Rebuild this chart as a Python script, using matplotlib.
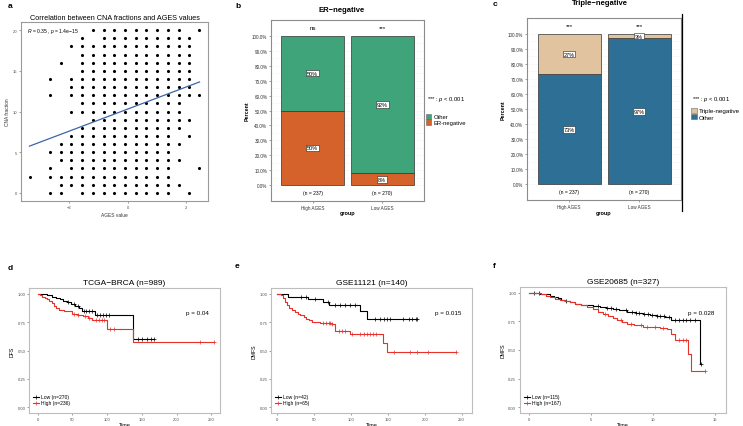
import numpy as np
import matplotlib.pyplot as plt
from matplotlib.patches import Patch
from matplotlib.lines import Line2D

plt.rcParams['font.family'] = ['Liberation Sans', 'DejaVu Sans']
plt.rcParams['mathtext.fontset'] = 'custom'
plt.rcParams['mathtext.rm'] = 'Liberation Sans'
plt.rcParams['mathtext.it'] = 'Liberation Sans:italic'

# ---------------- data ----------------
# panel a: discrete AGES levels (columns) and CNA fraction rows 20..0
ages_levels = [-3.35, -2.64, -2.29, -1.92, -1.55, -1.18, -0.82, -0.46,
               -0.09, 0.27, 0.63, 0.99, 1.36, 1.74, 2.10, 2.45]
cna_values = [20, 19, 18, 17, 16, 15, 14, 13, 12, 11, 10,
              9, 8, 7, 6, 5, 4, 3, 2, 1, 0]
cna_grid = [
    "0000011111111101",
    "0000101111111110",
    "0001111111111110",
    "0000111111111110",
    "0010111111111110",
    "0000111111111110",
    "0101111111111110",
    "0001111111111110",
    "0101111111111111",
    "0000111111111100",
    "0001111111111100",
    "0000011111111110",
    "0000111111111100",
    "0001111111111010",
    "0011111111111100",
    "0111111111111000",
    "0011111111111100",
    "0101111111111001",
    "1111111111111000",
    "0011111111111100",
    "0110111111111010",
]
fit_intercept = 10.3
fit_slope = 1.36

# panels b and c
groups = ["High AGES", "Low AGES"]
n_counts = [237, 270]
er_neg_pct = [50, 8]
er_other_pct = [50, 92]
er_sig = ["ns", "***"]
tn_pct = [27, 3]
tn_other_pct = [73, 97]
tn_sig = ["***", "***"]

# panel d  (TCGA-BRCA, DFS)
d_low_t = [0, 8, 14, 20, 26, 32, 36, 42, 48, 54, 60, 64, 82, 137]
d_low_s = [1.0, 0.995, 0.985, 0.975, 0.965, 0.95, 0.94, 0.925, 0.91, 0.895, 0.87, 0.85, 0.81, 0.60]
d_low_end = 168
d_low_cens = [44, 52, 58, 66, 70, 74, 78, 86, 90, 94, 98, 102, 145, 150, 158, 163, 168]
d_high_t = [0, 3, 6, 10, 13, 17, 20, 23, 26, 30, 38, 50, 58, 65, 72, 78, 100, 137]
d_high_s = [1.0, 0.985, 0.975, 0.965, 0.95, 0.935, 0.915, 0.895, 0.875, 0.86, 0.845, 0.825,
            0.81, 0.80, 0.785, 0.765, 0.69, 0.575]
d_high_end = 254
d_high_cens = [52, 58, 68, 74, 84, 88, 92, 96, 104, 110, 233, 254]

# panel e  (GSE11121, DMFS)
e_low_t = [0, 15, 42, 62, 71, 113, 122]
e_low_s = [1.0, 0.975, 0.95, 0.925, 0.90, 0.845, 0.78]
e_low_end = 190
e_low_cens = [33, 40, 51, 69, 79, 85, 92, 99, 106, 133, 140, 145, 149, 153, 170, 179, 183, 188, 190]
e_high_t = [0, 5, 8, 11, 14, 17, 20, 24, 28, 31, 36, 40, 44, 47, 58, 74, 79, 99, 143, 149]
e_high_s = [1.0, 0.985, 0.96, 0.93, 0.90, 0.875, 0.86, 0.84, 0.825, 0.815, 0.795, 0.78,
            0.765, 0.755, 0.74, 0.73, 0.67, 0.645, 0.565, 0.49]
e_high_end = 242
e_high_cens = [62, 66, 70, 72, 74, 84, 88, 92, 102, 112, 118, 122, 126, 130, 134, 158, 180, 190, 205, 242]

# panel f  (GSE20685, DMFS)
f_low_t = [0, 0.9, 1.3, 1.7, 2.0, 2.3, 2.6, 2.9, 3.3, 3.7, 4.2, 4.7, 5.2, 5.7, 6.2, 6.8,
           7.3, 7.9, 8.6, 9.2, 9.8, 10.3, 11.0, 11.5, 13.8]
f_low_s = [1.0, 0.99, 0.985, 0.975, 0.965, 0.955, 0.94, 0.93, 0.92, 0.905, 0.895, 0.89,
           0.88, 0.875, 0.865, 0.855, 0.845, 0.835, 0.825, 0.815, 0.805, 0.80, 0.79, 0.76, 0.38]
f_low_end = 13.85
f_low_cens = [0.4, 0.8, 3.0, 5.6, 6.3, 6.6, 7.0, 7.8, 8.3, 8.6, 8.9, 9.3, 9.6, 9.9, 10.3,
              10.6, 10.9, 11.3, 11.8, 12.1, 12.4, 12.7, 13.0, 13.4, 13.85]
f_high_t = [0, 1.0, 1.4, 1.7, 2.1, 2.5, 2.9, 3.3, 3.7, 4.2, 4.7, 5.2, 5.6, 6.0, 6.4, 6.8,
            7.1, 7.5, 7.9, 8.5, 9.2, 10.0, 10.6, 11.1, 11.5, 11.8, 12.85, 13.1]
f_high_s = [1.0, 0.99, 0.975, 0.96, 0.945, 0.935, 0.925, 0.915, 0.905, 0.89, 0.875, 0.855,
            0.835, 0.815, 0.795, 0.78, 0.76, 0.745, 0.73, 0.715, 0.705, 0.70, 0.695, 0.68,
            0.64, 0.585, 0.465, 0.315]
f_high_end = 14.2
f_high_cens = [6.1, 7.4, 8.2, 9.0, 9.5, 10.2, 10.8, 12.1, 12.4, 12.7, 14.2]

# ---------------- figure ----------------
W, H = 743, 427
fig = plt.figure(figsize=(W / 100, H / 100), dpi=100)


def box(l, t, r, b):
    return [l / W, 1 - b / H, (r - l) / W, (b - t) / H]


def ftext(x, y, s, **kw):
    fig.text(x / W, 1 - y / H, s, **kw)


def style_frame(ax, col):
    for sp in ax.spines.values():
        sp.set_color(col)
        sp.set_linewidth(0.8)
    ax.tick_params(length=1.5, width=0.4, color='#555555', pad=1.2,
                   labelsize=3, labelcolor='#4D4D4D')


# panel labels
for lab, x, y in [("a", 10, 6), ("b", 238, 7), ("c", 495, 5),
                  ("d", 10, 268), ("e", 237, 267), ("f", 494, 267)]:
    ftext(x, y, lab, fontsize=6, fontweight='bold', ha='center', va='center')

# ---- panel a ----
ax = fig.add_axes(box(21, 23, 208, 202))
px, py = [], []
for yv, row in zip(cna_values, cna_grid):
    for xv, flag in zip(ages_levels, row):
        if flag == "1":
            px.append(xv)
            py.append(yv)
ax.scatter(px, py, s=5, color='black', linewidths=0)
xl = np.array([min(ages_levels), max(ages_levels)])
ax.plot(xl, fit_intercept + fit_slope * xl, color='#3A66A8', lw=0.9)
ax.margins(x=0.05, y=0.05)
ax.set_xticks([-2, 0, 2])
ax.set_yticks([0, 5, 10, 15, 20])
style_frame(ax, '#9A9A9A')
ax.set_xlabel("AGES value", fontsize=3.5, labelpad=2, color='#333333')
ax.set_ylabel("CNA fraction", fontsize=3.5, labelpad=2, color='#333333')
ax.set_title("Correlation between CNA fractions and AGES values", fontsize=5.2, pad=2.5)
ax.text(0.03, 0.95, r"$\it{R}$ = 0.35 , $\it{p}$ = 1.4e−15", transform=ax.transAxes,
        fontsize=3.6, va='center', ha='left')


# ---- panels b, c ----
def stacked(rect, bottom_vals, top_vals, bottom_col, top_col, sig, title, title_y, title_x):
    ax = fig.add_axes(box(*rect))
    x = np.arange(1, len(groups) + 1)
    ax.bar(x, bottom_vals, width=0.9, color=bottom_col, edgecolor='#333333', linewidth=0.5, zorder=3)
    ax.bar(x, top_vals, width=0.9, bottom=bottom_vals, color=top_col, edgecolor='#333333',
           linewidth=0.5, zorder=3)
    for xi, b, t, s, n in zip(x, bottom_vals, top_vals, sig, n_counts):
        for val, mid in [(b, b / 2), (t, b + t / 2)]:
            ax.text(xi, mid, f"{val}%", ha='center', va='center', fontsize=4.0, zorder=5,
                    bbox=dict(boxstyle='square,pad=0.15', fc='white', ec='#222222', lw=0.4))
        ax.text(xi, 105.5, s, ha='center', va='center', fontsize=4.5)
        ax.text(xi, -4.8, f"(n = {n})", ha='center', va='center', fontsize=3.6)
    ax.set_xlim(0.4, 2.6)
    ax.set_ylim(-10.5, 110.5)
    yt = list(range(0, 101, 10))
    ax.set_yticks(yt)
    ax.set_yticklabels([f"{v:.1f}%" for v in yt])
    ax.set_yticks(list(range(5, 100, 10)), minor=True)
    ax.set_xticks(x)
    ax.set_xticklabels(groups)
    ax.grid(axis='y', which='both', color='#E3E3E3', lw=0.4, ls=':', zorder=0)
    style_frame(ax, '#8C8C8C')
    ax.tick_params(which='minor', length=0)
    ax.tick_params(labelsize=3.3, labelcolor='#333333')
    ax.set_ylabel("Percent", fontsize=3.8, fontweight='bold', labelpad=2)
    ftext(title_x, title_y, title, fontsize=5.5, fontweight='bold', ha='center', va='center')
    return ax


stacked((271, 21, 424, 202), er_neg_pct, er_other_pct, '#D4622A', '#3FA47A', er_sig,
        "ER−negative", 10.5, 342)
ftext(348, 214, "group", fontsize=4, fontweight='bold', ha='center', va='center')
ftext(427, 100, r"*** : $\it{p}$ < 0.001", fontsize=4.2, ha='left', va='center')
fig.legend([Patch(fc='#3FA47A', ec='#666666', lw=0.4), Patch(fc='#D4622A', ec='#666666', lw=0.4)],
           ["Other", "ER-negative"], loc='upper left', bbox_to_anchor=(426 / W, 1 - 114.5 / H),
           frameon=False, fontsize=4.2, handlelength=0.9, handleheight=1.0,
           handletextpad=0.35, labelspacing=0.05, borderpad=0, borderaxespad=0)

stacked((527, 19, 681, 201), tn_other_pct, tn_pct, '#2E6F95', '#E1C3A0', tn_sig,
        "Triple−negative", 3.5, 600)
ftext(604, 214, "group", fontsize=4, fontweight='bold', ha='center', va='center')
ftext(692, 99, r"*** : $\it{p}$ < 0.001", fontsize=4.2, ha='left', va='center')
fig.legend([Patch(fc='#E1C3A0', ec='#666666', lw=0.4), Patch(fc='#2E6F95', ec='#666666', lw=0.4)],
           ["Triple-negative", "Other"], loc='upper left', bbox_to_anchor=(691 / W, 1 - 108.5 / H),
           frameon=False, fontsize=4.5, handlelength=0.9, handleheight=1.0,
           handletextpad=0.35, labelspacing=0.05, borderpad=0, borderaxespad=0)
fig.add_artist(Line2D([682 / W, 682 / W], [1 - 15 / H, 1 - 212 / H], color='black', lw=0.9))

# ---- panels d, e, f ----
RED = '#E8312A'


def km(rect, curves, xlim, xticks, title, ylab, ptxt, labels):
    ax = fig.add_axes(box(*rect))
    handles = []
    for (t, s, end, cens), col in zip(curves, ['black', RED]):
        t = np.asarray(t, float)
        s = np.asarray(s, float)
        ax.step(np.append(t, end), np.append(s, s[-1]), where='post', color=col, lw=0.8)
        cy = s[np.searchsorted(t, cens, side='right') - 1]
        ax.plot(cens, cy, ls='none', marker='+', ms=2.4, mew=0.5, color=col)
        handles.append(Line2D([], [], color=col, lw=0.8, marker='+', ms=2.4, mew=0.5))
    ax.set_xlim(*xlim)
    ax.set_ylim(-0.05, 1.05)
    ax.set_xticks(xticks)
    ax.set_yticks([0, 0.25, 0.5, 0.75, 1.0])
    ax.set_yticklabels(["0.00", "0.25", "0.50", "0.75", "1.00"])
    style_frame(ax, '#BDBDBD')
    ax.set_xlabel("Time", fontsize=4, labelpad=1)
    ax.set_ylabel(ylab, fontsize=3.8, labelpad=2)
    ax.set_title(title, fontsize=6, pad=3)
    ax.text(0.88, 0.80, ptxt, transform=ax.transAxes, fontsize=4.5, ha='center', va='center')
    ax.legend(handles, labels, loc='lower left', bbox_to_anchor=(0.02, 0.06), frameon=False,
              fontsize=3.6, handlelength=1.2, handletextpad=0.4, labelspacing=0.2,
              borderpad=0, borderaxespad=0)
    return ax


km((29, 289, 220, 414),
   [(d_low_t, d_low_s, d_low_end, d_low_cens), (d_high_t, d_high_s, d_high_end, d_high_cens)],
   (-12.5, 262.5), [0, 50, 100, 150, 200, 250], "TCGA−BRCA (n=989)", "DFS", "p = 0.04",
   ["Low (n=270)", "High (n=236)"])
km((271, 289, 472, 414),
   [(e_low_t, e_low_s, e_low_end, e_low_cens), (e_high_t, e_high_s, e_high_end, e_high_cens)],
   (-8, 264), [0, 50, 100, 150, 200, 250], "GSE11121 (n=140)", "DMFS", "p = 0.015",
   ["Low (n=42)", "High (n=65)"])
km((520, 288, 726, 414),
   [(f_low_t, f_low_s, f_low_end, f_low_cens), (f_high_t, f_high_s, f_high_end, f_high_cens)],
   (-0.73, 15.9), [0, 5, 10, 15], "GSE20685 (n=327)", "DMFS", "p = 0.028",
   ["Low (n=115)", "High (n=167)"])

fig.savefig("out.png", dpi=100)
